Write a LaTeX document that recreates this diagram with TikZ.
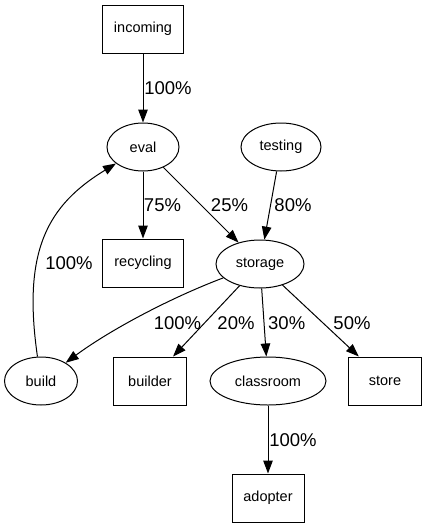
\documentclass[tikz,border=0pt]{standalone}
\usepackage{fontspec}
\setmainfont{Liberation Sans}
\usetikzlibrary{arrows.meta, shapes.geometric}

\begin{document}
\begin{tikzpicture}[x=1pt, y=-1pt,
  box/.style={draw, rectangle, line width=1pt, minimum height=48pt,
    inner sep=0pt, font=\fontsize{14.5}{17}\selectfont},
  oval/.style={draw, ellipse, line width=1pt, minimum height=48pt,
    inner sep=0pt, font=\fontsize{14.5}{17}\selectfont},
  edge/.style={line width=1pt, -{Triangle[length=13pt, width=9.5pt]}},
  pct/.style={inner sep=0pt, font=\fontsize{18.5}{22}\selectfont}]
  \useasboundingbox (0,0) rectangle (427,528);
  % Nodes
  \node[box, minimum width=81pt] (incoming) at (143,29) {incoming};
  \node[oval, minimum width=72pt] (eval) at (143,147) {eval};
  \node[oval, minimum width=80pt] (testing) at (281,147) {testing};
  \node[box, minimum width=81pt] (recycling) at (143,263) {recycling};
  \node[oval, minimum width=88pt] (storage) at (260,264) {storage};
  \node[oval, minimum width=73pt] (build) at (41,381) {build};
  \node[box, minimum width=73pt] (builder) at (150,381) {builder};
  \node[oval, minimum width=116pt] (classroom) at (268,381) {classroom};
  \node[box, minimum width=73pt] (store) at (385,381) {store};
  \node[box, minimum width=72pt] (adopter) at (268,498) {adopter};
  % Edges
  \draw[edge] (incoming) -- (eval);
  \draw[edge] (eval) -- (recycling);
  \draw[edge] (eval) -- (storage);
  \draw[edge] (testing) -- (storage);
  \draw[edge] (storage) .. controls (170,298) and (110,330) .. (build);
  \draw[edge] (storage) -- (builder);
  \draw[edge] (storage) -- (classroom);
  \draw[edge] (storage) -- (store);
  \draw[edge] (build) .. controls (22,250) and (48,205) .. (eval);
  \draw[edge] (classroom) -- (adopter);
  % Percentages
  \foreach \n/\x/\y/\p in {p-inc/168/88/100, p-rec/162.5/205/75,
      p-evst/229.5/205/25, p-test/293/205/80, p-bld/69/263/100,
      p-stbl/177.5/323/100, p-bldr/236/323/20, p-cls/286.7/323/30,
      p-sto/352/323/50, p-adp/293/440/100}{
    \node[pct] (\n) at (\x,\y) {\p\%};
  }
\end{tikzpicture}
\end{document}
